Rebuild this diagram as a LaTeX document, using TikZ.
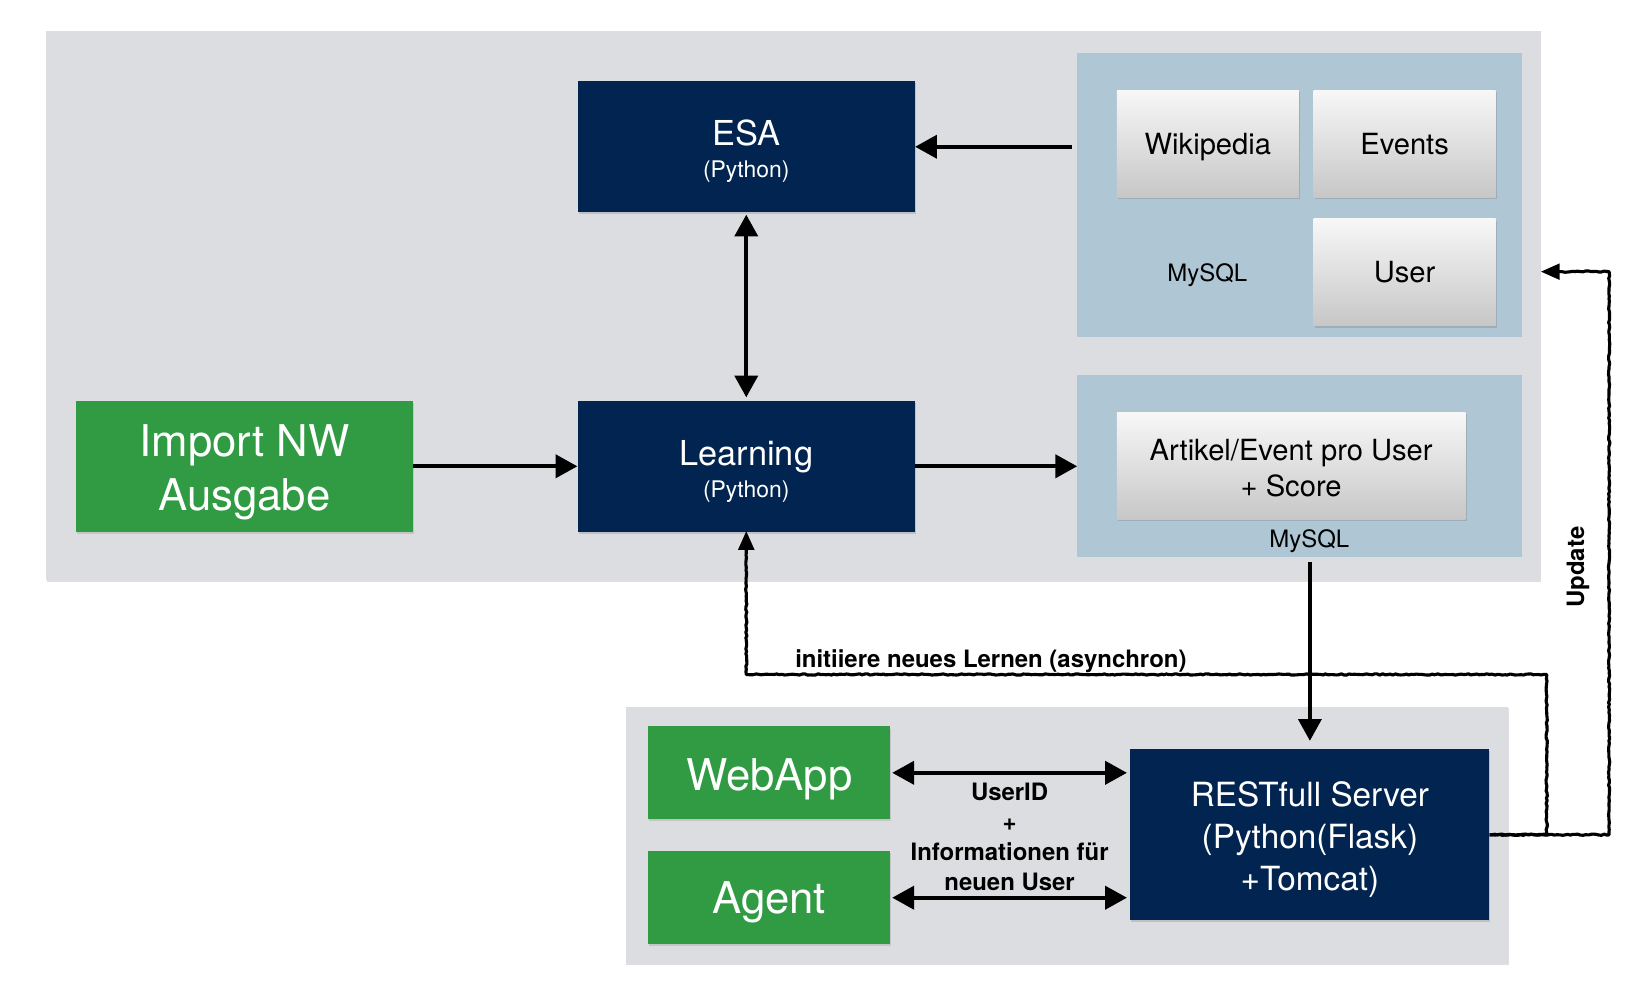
\documentclass[tikz,border=0pt]{standalone}
\usepackage{fontspec}
\setmainfont{TeX Gyre Heros}
\usetikzlibrary{arrows.meta,shadows,decorations.pathmorphing,calc}
\definecolor{bggray}{RGB}{220,221,224}
\definecolor{panelblue}{RGB}{175,198,212}
\definecolor{navy}{RGB}{2,36,80}
\definecolor{dgreen}{RGB}{48,155,67}
\newcommand{\fsz}[2]{\fontsize{#1}{#2}\selectfont}
\newcommand{\up}[1]{\rule{0pt}{#1}}
\begin{document}
\pgfmathsetseed{7}
\begin{tikzpicture}[x=1pt,y=-1pt,
  panel/.style={fill=bggray, inner sep=0pt, anchor=north west,
    drop shadow={shadow xshift=0.6pt, shadow yshift=-1.5pt, opacity=0.25}},
  dbpanel/.style={fill=panelblue, inner sep=0pt, anchor=north west},
  navybox/.style={fill=navy, text=white, inner sep=0pt, align=center,
    drop shadow={shadow xshift=1pt, shadow yshift=-2pt, opacity=0.3}},
  greenbox/.style={fill=dgreen, text=white, inner sep=0pt, align=center,
    drop shadow={shadow xshift=1pt, shadow yshift=-2pt, opacity=0.25}},
  tablebox/.style={top color=white!97!black, bottom color=white!78!black, inner sep=0pt,
    align=center, minimum width=175pt, minimum height=103pt, font=\fsz{28}{35},
    drop shadow={shadow xshift=1pt, shadow yshift=-2pt, opacity=0.35}},
  arr/.style={line width=4pt, -{Triangle[length=21pt,width=22pt]}},
  darr/.style={line width=4pt, {Triangle[length=21pt,width=22pt]}-{Triangle[length=21pt,width=22pt]}},
  sketch/.style={line width=3pt, line join=round,
    -{Triangle[length=18pt,width=15pt]},
    decorate, decoration={random steps, segment length=2.5pt, amplitude=0.6pt, post length=20pt}},
  lbl/.style={font=\fsz{23}{29}\bfseries, align=center, inner sep=0pt}
]
\useasboundingbox (0,0) rectangle (1568,958);

% background panels
\node[panel, minimum width=1436pt, minimum height=527pt] (bgtop) at (44,30) {};
\node[panel, minimum width=848pt, minimum height=246pt] (bgbot) at (601,679) {};
\node[dbpanel, minimum width=427pt, minimum height=273pt] (panelA) at (1035,51) {};
\node[dbpanel, minimum width=427pt, minimum height=175pt] (panelB) at (1035,360) {};

% tables
\node[tablebox] (wiki) at (1160.5,138) {\up{26.4pt}Wikipedia};
\node[tablebox] (events) at (1349.5,138) {Events};
\node[tablebox] (user) at (1349.5,261.5) {User};
\node[inner sep=0pt, font=\fsz{23}{28}] (mysqlA) at (1160,264) {MySQL};
\node[tablebox, minimum width=335pt] (artikel) at (1240.5,447.5) {\up{25.4pt}Artikel/Event pro User\\+ Score};
\node[inner sep=0pt, font=\fsz{23}{28}] (mysqlB) at (1258,520) {MySQL};

% main boxes
\node[navybox, minimum width=324pt, minimum height=126pt, font=\fsz{22}{31}] (esa) at (717,141)
  {{\fsz{33}{31}\up{32.8pt}ESA}\\(Python)};
\node[navybox, minimum width=324pt, minimum height=126pt, font=\fsz{22}{31}] (learn) at (717,448)
  {{\fsz{33}{31}\up{34pt}Learning}\\(Python)};
\node[greenbox, minimum width=324pt, minimum height=126pt, font=\fsz{42}{52}] (import) at (235,448)
  {\up{42.2pt}Import NW\\Ausgabe};
\node[greenbox, minimum width=232pt, minimum height=89pt, font=\fsz{42}{50}] (webapp) at (739,742.5)
  {\up{42.7pt}WebApp};
\node[greenbox, minimum width=232pt, minimum height=89pt, font=\fsz{42}{50}] (agent) at (739,862.5)
  {\up{40pt}Agent};
\node[navybox, minimum width=345pt, minimum height=164pt, font=\fsz{32}{40}] (rest) at (1258.5,802)
  {\up{33.4pt}RESTfull Server\\(Python(Flask)\\+Tomcat)};

% solid arrows
\draw[arr] ($(panelA.west |- esa.east)+(-5,0)$) -- (esa.east);
\draw[darr, shorten <=2pt, shorten >=3pt] (esa.south) -- (learn.north);
\draw[arr] (import.east) -- (learn.west);
\draw[arr] (learn.east) -- (learn.east -| panelB.west);
\draw[arr, shorten >=8pt] ($(panelB.south -| rest.north)+(0,5)$) -- (rest.north);
\draw[darr, shorten <=2pt, shorten >=3pt] (webapp.east) -- (webapp.east -| rest.west);
\draw[darr, shorten <=2pt, shorten >=3pt] (agent.east) -- (agent.east -| rest.west);
\node[lbl] (info) at (970,804) {UserID\\+\\Informationen für\\neuen User};

% sketchy connectors
\coordinate (c1) at (1486,648);
\coordinate (c2) at (1546,261);
\draw[sketch, shorten >=-1pt] (rest.east) -| (c1) -| (learn.south);
\draw[sketch] (rest.east) -| (c2) -- (bgtop.east |- c2);
\node[lbl, anchor=base] (lern) at (952,641) {initiiere neues Lernen (asynchron)};
\node[lbl, rotate=90] (upd) at (1516,545) {Update};
\end{tikzpicture}
\end{document}
